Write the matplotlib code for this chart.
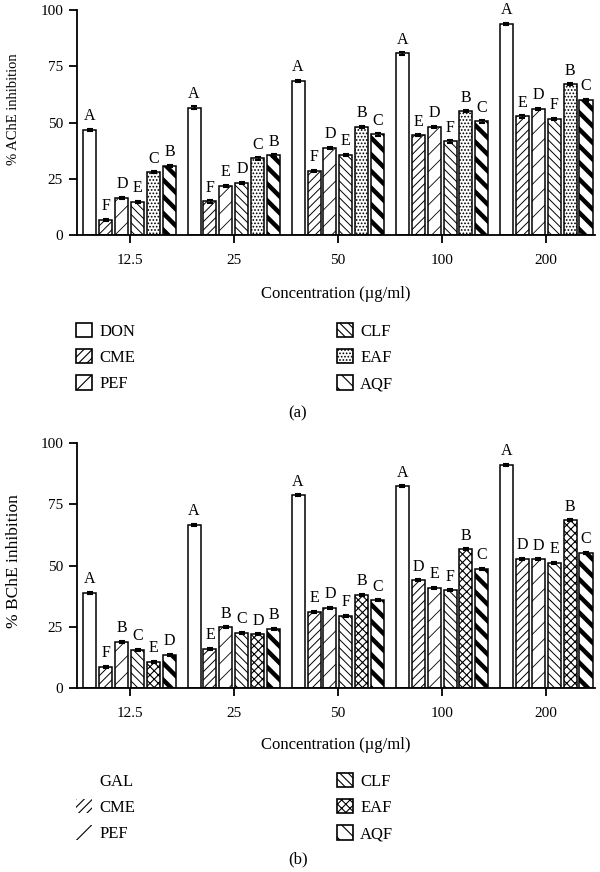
import matplotlib
matplotlib.use("Agg")
import matplotlib.pyplot as plt
import numpy as np
from matplotlib.patches import Patch

plt.rcParams['font.family'] = ['Liberation Serif', 'DejaVu Serif']
plt.rcParams['hatch.linewidth'] = 0.8

concentrations = ["12.5", "25", "50", "100", "200"]

# Panel (a): AChE inhibition
ache_series = ["DON", "CME", "PEF", "CLF", "EAF", "AQF"]
ache_DON = [46.7, 56.6, 68.6, 80.7, 93.8]
ache_CME = [6.7, 15.0, 28.6, 44.4, 52.7]
ache_PEF = [16.6, 21.8, 38.8, 48.1, 56.0]
ache_CLF = [14.8, 23.1, 35.6, 41.6, 51.6]
ache_EAF = [27.9, 34.1, 48.1, 55.0, 67.0]
ache_AQF = [30.8, 35.4, 44.7, 50.5, 60.0]
ache_err = [0.5, 0.6, 0.5, 0.5, 0.5]
ache_letters = {
    "DON": ["A", "A", "A", "A", "A"],
    "CME": ["F", "F", "F", "E", "E"],
    "PEF": ["D", "E", "D", "D", "D"],
    "CLF": ["E", "D", "E", "F", "F"],
    "EAF": ["C", "C", "B", "B", "B"],
    "AQF": ["B", "B", "C", "C", "C"],
}

# Panel (b): BChE inhibition
bche_series = ["GAL", "CME", "PEF", "CLF", "EAF", "AQF"]
bche_GAL = [38.9, 66.7, 78.6, 82.3, 91.2]
bche_CME = [8.6, 16.0, 31.0, 43.9, 52.8]
bche_PEF = [18.8, 24.8, 32.7, 41.0, 52.5]
bche_CLF = [15.6, 22.6, 29.4, 39.9, 51.0]
bche_EAF = [10.6, 21.9, 38.1, 56.6, 68.4]
bche_AQF = [13.6, 24.2, 35.8, 48.6, 55.1]
bche_err = [0.4, 0.4, 0.4, 0.4, 0.4]
bche_letters = {
    "GAL": ["A", "A", "A", "A", "A"],
    "CME": ["F", "E", "E", "D", "D"],
    "PEF": ["B", "B", "D", "E", "D"],
    "CLF": ["C", "C", "F", "F", "E"],
    "EAF": ["E", "D", "B", "B", "B"],
    "AQF": ["D", "B", "C", "C", "C"],
}

hatches_a = [None, '////', '//', '\\\\\\\\', '.....', '\\\\']
hatches_b = [None, '////', '//', '\\\\\\\\', 'xxxx', '\\\\']
hatch_lw = [0.8, 0.7, 0.6, 0.7, 0.8, 3.2]

fig = plt.figure(figsize=(6.0, 8.72), dpi=100)

pitch = 0.1534
width = 0.125


def draw_panel(ax, series, values, err, letters, hatches, ylabel, ylabel_size,
               ylabel_x, ylabel_y):
    x = np.arange(len(concentrations))
    for i, (name, vals) in enumerate(zip(series, values)):
        off = (i - 2.5) * pitch
        bars = ax.bar(x + off, vals, width=width, color='white', edgecolor='black',
                      linewidth=1.1, hatch=hatches[i], zorder=2,
                      yerr=err, capsize=2.5,
                      error_kw=dict(elinewidth=1.0, capthick=1.5, ecolor='black'))
        for b in bars.patches:
            if hasattr(b, 'set_hatch_linewidth'):
                b.set_hatch_linewidth(hatch_lw[i])
        for xi, v, lab in zip(x + off, vals, letters[name]):
            ax.annotate(lab, (xi, v), xytext=(0, 4), textcoords='offset points',
                        ha='center', va='bottom', fontsize=11.5)
    ax.set_xlim(-0.508, 4.47)
    ax.set_ylim(0, 100)
    ax.set_yticks([0, 25, 50, 75, 100])
    ax.set_xticks(x)
    ax.set_xticklabels(concentrations)
    for s in ['top', 'right']:
        ax.spines[s].set_visible(False)
    for s in ['left', 'bottom']:
        ax.spines[s].set_linewidth(1.3)
    ax.tick_params(axis='both', direction='out', length=6, width=1.3, labelsize=11)
    ax.tick_params(axis='x', pad=8)
    ax.tick_params(axis='y', pad=4)
    ax.set_ylabel(ylabel, fontsize=ylabel_size)
    ax.yaxis.set_label_coords(ylabel_x, ylabel_y)


ax1 = fig.add_axes([77 / 600, 1 - 235 / 872, 518 / 600, 225 / 872])
draw_panel(ax1, ache_series,
           [ache_DON, ache_CME, ache_PEF, ache_CLF, ache_EAF, ache_AQF],
           ache_err, ache_letters, hatches_a, "% AChE inhibition", 10.5, -0.111, 0.56)

ax2 = fig.add_axes([77 / 600, 1 - 688 / 872, 518 / 600, 245 / 872])
draw_panel(ax2, bche_series,
           [bche_GAL, bche_CME, bche_PEF, bche_CLF, bche_EAF, bche_AQF],
           bche_err, bche_letters, hatches_b, "% BChE inhibition", 12.5, -0.106, 0.52)

fig.text(336 / 600, 1 - 294 / 872, "Concentration (µg/ml)", ha='center', va='center', fontsize=12)
fig.text(336 / 600, 1 - 745 / 872, "Concentration (µg/ml)", ha='center', va='center', fontsize=12)
fig.text(298 / 600, 1 - 413 / 872, "(a)", ha='center', va='center', fontsize=12)
fig.text(298 / 600, 1 - 859 / 872, "(b)", ha='center', va='center', fontsize=12)


def make_handles(series, hatches, no_edge=()):
    hs = []
    for i, name in enumerate(series):
        if name in no_edge:
            if hatches[i] is None:
                p = Patch(facecolor='white', edgecolor='white', linewidth=0, label=name)
            else:
                p = Patch(facecolor='white', edgecolor='black', linewidth=0,
                          hatch=hatches[i], label=name)
        else:
            p = Patch(facecolor='white', edgecolor='black', linewidth=1.2,
                      hatch=hatches[i], label=name)
        if hasattr(p, 'set_hatch_linewidth'):
            p.set_hatch_linewidth(hatch_lw[i])
        hs.append(p)
    return hs


def place_legends(handles, y_top_px):
    kw = dict(frameon=False, fontsize=12, handlelength=0.95, handleheight=0.95,
              handletextpad=0.45, labelspacing=0.55, borderpad=0, borderaxespad=0,
              loc='upper left')
    l1 = fig.legend(handles=handles[:3], bbox_to_anchor=(76 / 600, 1 - y_top_px / 872), **kw)
    l2 = fig.legend(handles=handles[3:], bbox_to_anchor=(337 / 600, 1 - y_top_px / 872), **kw)
    return l1, l2


place_legends(make_handles(ache_series, hatches_a), 323)
place_legends(make_handles(bche_series, hatches_b, no_edge=("GAL", "CME", "PEF")), 773)

fig.savefig("out.png", dpi=100)
